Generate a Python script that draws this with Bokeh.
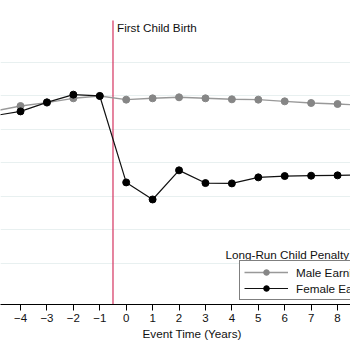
from bokeh.plotting import figure
from bokeh.models import Range1d, FixedTicker, Legend, LegendItem, Label, Title
from bokeh.embed import file_html
from bokeh.resources import INLINE

event_time = [-5, -4, -3, -2, -1, 0, 1, 2, 3, 4, 5, 6, 7, 8, 9]
male = [-0.045, -0.030, -0.020, -0.007, 0.0, -0.011, -0.007, -0.004, -0.007,
        -0.010, -0.011, -0.016, -0.021, -0.024, -0.028]
female = [-0.059, -0.046, -0.019, 0.004, 0.0, -0.258, -0.309, -0.222, -0.260,
          -0.261, -0.243, -0.239, -0.238, -0.237, -0.236]
x_ticks = [-5, -4, -3, -2, -1, 0, 1, 2, 3, 4, 5, 6, 7, 8, 9]
y_grid = [0.1, 0.0, -0.1, -0.2, -0.3, -0.4, -0.5]
event_x = -0.5
event_label = "First Child Birth"
legend_title = "Long-Run Child Penalty"
x_title = "Event Time (Years)"

FONT = "Liberation Sans"
FS = "11.7px"

p = figure(width=350, height=350, output_backend="svg", toolbar_location=None,
           x_range=Range1d(-4.758, 8.49), y_range=Range1d(-0.6225, 0.285),
           min_border_left=0, min_border_right=0, min_border_top=0,
           min_border_bottom=46)
p.outline_line_color = None
p.background_fill_color = "white"
p.border_fill_color = "white"

p.yaxis.visible = False
p.xgrid.visible = False
p.ygrid.ticker = FixedTicker(ticks=y_grid)
p.ygrid.grid_line_color = "#e8f0f0"
p.ygrid.grid_line_width = 1

ax = p.xaxis[0]
ax.ticker = FixedTicker(ticks=x_ticks)
ax.axis_line_color = "black"
ax.axis_line_width = 1
ax.major_tick_line_color = "black"
ax.major_tick_out = 6
ax.major_tick_in = 0
ax.minor_tick_line_color = None
ax.major_label_standoff = 3
ax.major_label_text_font = FONT
ax.major_label_text_font_size = "11.5px"
ax.major_label_text_color = "#111111"

# event line
p.segment(x0=[event_x], y0=[-0.6225], x1=[event_x], y1=[0.225],
          line_color="#d4325f", line_width=1.2)
p.add_layout(Label(x=event_x, y=0.225, x_offset=4, text=event_label,
                   text_baseline="top", text_font=FONT, text_font_size=FS,
                   text_color="#111111"))

male_line = p.line(event_time, male, line_color="#999999", line_width=1.4)
male_pts = p.scatter(event_time, male, size=7, fill_color="#868686",
                     line_color="#868686")
fem_line = p.line(event_time, female, line_color="#111111", line_width=1.2)
fem_pts = p.scatter(event_time, female, size=7, fill_color="black",
                    line_color="black")

legend = Legend(items=[
    LegendItem(label="Male Earnings", renderers=[male_line, male_pts]),
    LegendItem(label="Female Earnings", renderers=[fem_line, fem_pts]),
], location=(239, 4))
legend.border_line_color = "black"
legend.border_line_width = 1
legend.background_fill_color = "white"
legend.background_fill_alpha = 1
legend.padding = 4
legend.margin = 0
legend.spacing = 2
legend.glyph_width = 44
legend.glyph_height = 14
legend.label_standoff = 8
legend.label_text_font = FONT
legend.label_text_font_size = FS
legend.label_text_color = "#111111"
legend.label_height = 14
p.add_layout(legend, "center")

p.add_layout(Label(x=3.76, y=-0.473, text=legend_title, text_baseline="middle",
                   text_font=FONT, text_font_size=FS, text_color="#111111"))

p.add_layout(Title(text=x_title, align="left", offset=142, standoff=0,
                   text_font=FONT, text_font_size=FS, text_font_style="normal",
                   text_color="#111111"), "below")

open("out.html", "w").write(file_html(p, INLINE))
